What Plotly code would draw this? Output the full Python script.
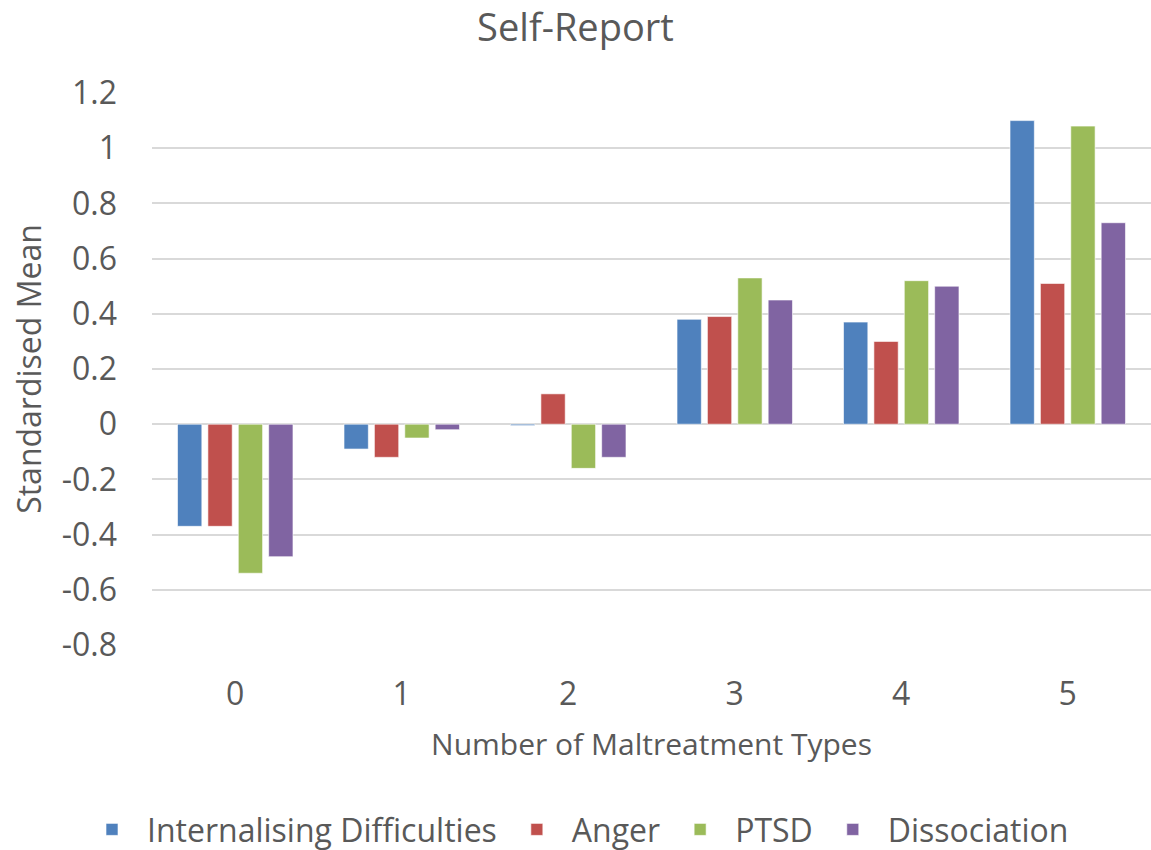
import plotly.graph_objects as go

categories = ["0", "1", "2", "3", "4", "5"]
internalising = [-0.37, -0.09, -0.005, 0.38, 0.37, 1.10]
anger = [-0.37, -0.12, 0.11, 0.39, 0.30, 0.51]
ptsd = [-0.54, -0.05, -0.16, 0.53, 0.52, 1.08]
dissociation = [-0.48, -0.02, -0.12, 0.45, 0.50, 0.73]
y_ticks = [-0.8, -0.6, -0.4, -0.2, 0, 0.2, 0.4, 0.6, 0.8, 1, 1.2]
y_tick_text = ["-0.8", "-0.6", "-0.4", "-0.2", "0", "0.2", "0.4", "0.6", "0.8", "1", "1.2"]

series = [
    ("Internalising Difficulties", internalising, "#4F81BD"),
    ("Anger", anger, "#C0504D"),
    ("PTSD", ptsd, "#9BBB59"),
    ("Dissociation", dissociation, "#8064A2"),
]

text_color = "#595959"
font_family = "Open Sans, Segoe UI, sans-serif"

fig = go.Figure()
for name, values, color in series:
    fig.add_trace(go.Bar(
        x=categories, y=values, name=name,
        marker=dict(color=color, line=dict(color="rgba(255,255,255,0.6)", width=1)),
    ))

fig.update_layout(
    width=1151, height=850,
    paper_bgcolor="white", plot_bgcolor="white",
    margin=dict(l=152, r=0, t=93, b=205),
    barmode="group", bargap=0.27, bargroupgap=0.2,
    font=dict(family=font_family, color=text_color, size=32),
    title=dict(text="Self-Report", x=0.5, xanchor="center", y=0.967, yanchor="middle",
               font=dict(size=38, color=text_color, family=font_family)),
    xaxis=dict(
        title=dict(text="Number of Maltreatment Types", font=dict(size=30), standoff=20),
        tickfont=dict(size=32), showgrid=False, showline=False, ticks="",
        ticklabelstandoff=27,
    ),
    yaxis=dict(
        title=dict(text="Standardised Mean", font=dict(size=32), standoff=10),
        range=[-0.8, 1.2], tickvals=y_ticks, ticktext=y_tick_text,
        tickfont=dict(size=32), showgrid=True, gridcolor="#D9D9D9", gridwidth=2,
        zeroline=True, zerolinecolor="#D9D9D9", zerolinewidth=2, ticks="",
        ticklabelstandoff=34,
    ),
    legend=dict(orientation="h", xref="container", x=0.5, xanchor="center",
                yref="container", y=0.024, yanchor="middle",
                font=dict(size=32), itemwidth=60, traceorder="normal"),
)

fig.write_html("out.html")
